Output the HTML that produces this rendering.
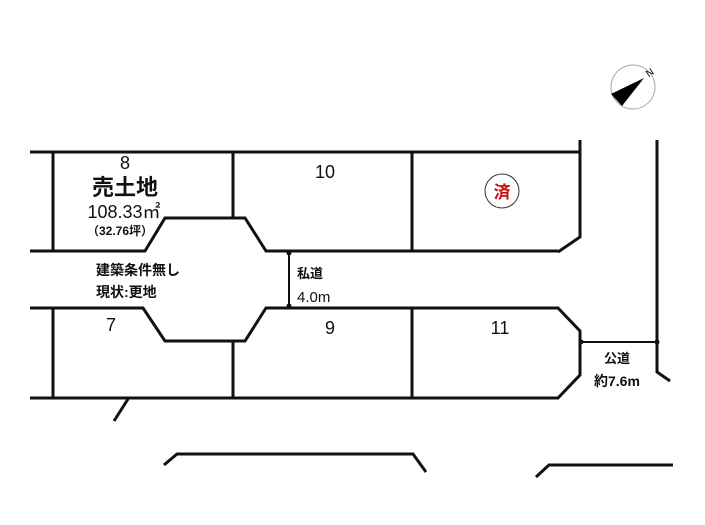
<!DOCTYPE html>
<html><head><meta charset="utf-8"><style>
html,body{margin:0;padding:0;background:#fff;}
svg{display:block;}
text{font-family:"Liberation Sans","Noto Sans CJK JP",sans-serif;}
</style></head><body>
<svg width="705" height="525" viewBox="0 0 705 525" xmlns="http://www.w3.org/2000/svg">
<g fill="none" stroke="#111" stroke-width="3" stroke-linejoin="miter">
<polyline points="30,152 580,152"/>
<polyline points="580,140 580,237 558,252"/>
<polyline points="30,251 145,251 165,218 245,218 266,251 558,251"/>
<polyline points="30,308 143,308 165,341 245,341 266,308 558,308 580,331 580,375 558,398 30,398"/>
<line x1="53" y1="152" x2="53" y2="251"/>
<line x1="53" y1="308" x2="53" y2="398"/>
<line x1="233" y1="152" x2="233" y2="218"/>
<line x1="233" y1="341" x2="233" y2="398"/>
<line x1="412" y1="152" x2="412" y2="251"/>
<line x1="412" y1="308" x2="412" y2="398"/>
<polyline points="657,140 657,372 670,381"/>
<line x1="128" y1="399" x2="114" y2="421"/>
<polyline points="164,465 177,454 413,454 426,472"/>
<polyline points="536,477 549,465 673,465"/>
</g>
<g stroke="#111" stroke-width="2">
<line x1="289" y1="251" x2="289" y2="308"/>
<line x1="580" y1="342" x2="657" y2="342"/>
</g>
<g fill="#111">
<circle cx="289" cy="253" r="2.5"/><circle cx="289" cy="306" r="2.5"/>
<circle cx="581" cy="342" r="2.5"/><circle cx="657" cy="342" r="2.5"/>
</g>
<circle cx="502" cy="191" r="17" fill="none" stroke="#333" stroke-width="1"/>
<text x="502" y="198" font-size="17" font-weight="bold" fill="#d01010" text-anchor="middle">済</text>
<g fill="#111" text-anchor="middle">
<text x="125" y="169" font-size="18">8</text>
<text x="125" y="195" font-size="22" font-weight="bold">売土地</text>
<text x="124" y="218" font-size="18">108.33㎡</text>
<text x="120" y="235" font-size="12" font-weight="bold">（32.76坪）</text>
<text x="325" y="178" font-size="18">10</text>
<text x="111" y="331" font-size="18">7</text>
<text x="330" y="334" font-size="18">9</text>
<text x="500" y="334" font-size="18">11</text>
</g>
<g fill="#111" font-weight="bold">
<text x="96" y="275" font-size="14">建築条件無し</text>
<text x="96" y="297" font-size="14">現状:更地</text>
<text x="297" y="278" font-size="13">私道</text>
<text x="297" y="302" font-size="15" font-weight="normal">4.0m</text>
<text x="604" y="363" font-size="13">公道</text>
<text x="594" y="386" font-size="14">約7.6m</text>
</g>
<circle cx="633" cy="87" r="22" fill="none" stroke="#aaa" stroke-width="1"/>
<polygon points="611,94 644,78 622,106" fill="#000"/>
<text x="650" y="76" font-size="10" fill="#000" transform="rotate(-35 650 73)" text-anchor="middle">N</text>
</svg>
</body></html>
